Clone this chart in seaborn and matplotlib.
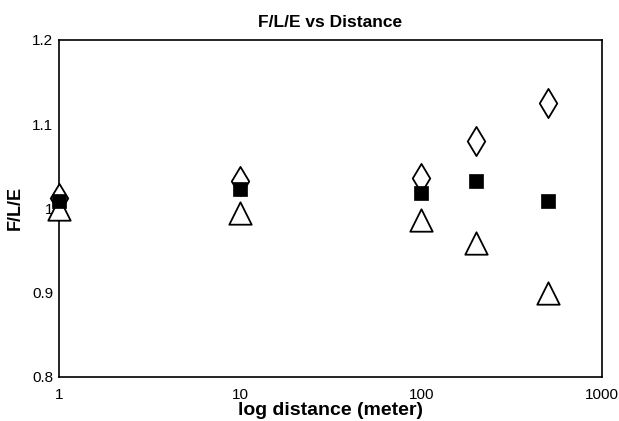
import numpy as np
import pandas as pd
import matplotlib
matplotlib.use("Agg")
import matplotlib.pyplot as plt
import seaborn as sns

# values
distance = [1, 10, 100, 200, 500]
series_f = [1.012, 1.033, 1.036, 1.080, 1.125]   # open diamonds
series_l = [1.009, 1.023, 1.018, 1.033, 1.009]   # filled squares
series_e = [0.999, 0.994, 0.986, 0.959, 0.900]   # open triangles
x_ticks = [1, 10, 100, 1000]
y_ticks = [0.8, 0.9, 1.0, 1.1, 1.2]
y_tick_labels = ["0.8", "0.9", "1", "1.1", "1.2"]

df = pd.DataFrame({
    "distance": distance * 3,
    "value": series_f + series_l + series_e,
    "series": ["F"] * 5 + ["L"] * 5 + ["E"] * 5,
})

sns.set_style("white")
plt.rcParams["font.family"] = ["Liberation Sans", "DejaVu Sans"]
plt.rcParams["text.color"] = "black"

fig = plt.figure(figsize=(6.19, 4.21), dpi=100)
ax = fig.add_axes([0.095, 0.105, 0.878, 0.80])

# open diamonds
sns.scatterplot(data=df[df.series == "F"], x="distance", y="value", ax=ax,
                marker="d", s=220, facecolor="white", edgecolor="black",
                linewidth=1.3, legend=False, zorder=3, clip_on=False)
# filled squares
sns.scatterplot(data=df[df.series == "L"], x="distance", y="value", ax=ax,
                marker="s", s=110, color="black", edgecolor="black",
                linewidth=0.5, legend=False, zorder=4, clip_on=False)
# open triangles
sns.scatterplot(data=df[df.series == "E"], x="distance", y="value", ax=ax,
                marker="^", s=260, facecolor="white", edgecolor="black",
                linewidth=1.3, legend=False, zorder=3, clip_on=False)

ax.set_xscale("log")
ax.set_xlim(1, 1000)
ax.set_ylim(0.8, 1.2)
ax.set_xticks(x_ticks)
ax.set_xticklabels([str(t) for t in x_ticks])
ax.minorticks_off()
ax.set_yticks(y_ticks)
ax.set_yticklabels(y_tick_labels)
ax.tick_params(direction="in", length=4, width=0.8, labelsize=11, pad=8,
               colors="black", labelcolor="black")
ax.tick_params(axis="y", pad=4)

for sp in ax.spines.values():
    sp.set_color("black")
    sp.set_linewidth(1.2)

ax.set_title("F/L/E vs Distance", fontsize=12.5, fontweight="bold", pad=9, color="black")
ax.set_xlabel("log distance (meter)", fontsize=14, fontweight="bold", labelpad=0, color="black")
ax.set_ylabel("F/L/E", fontsize=13, fontweight="bold", labelpad=6, color="black")

fig.savefig("out.png", dpi=100)
